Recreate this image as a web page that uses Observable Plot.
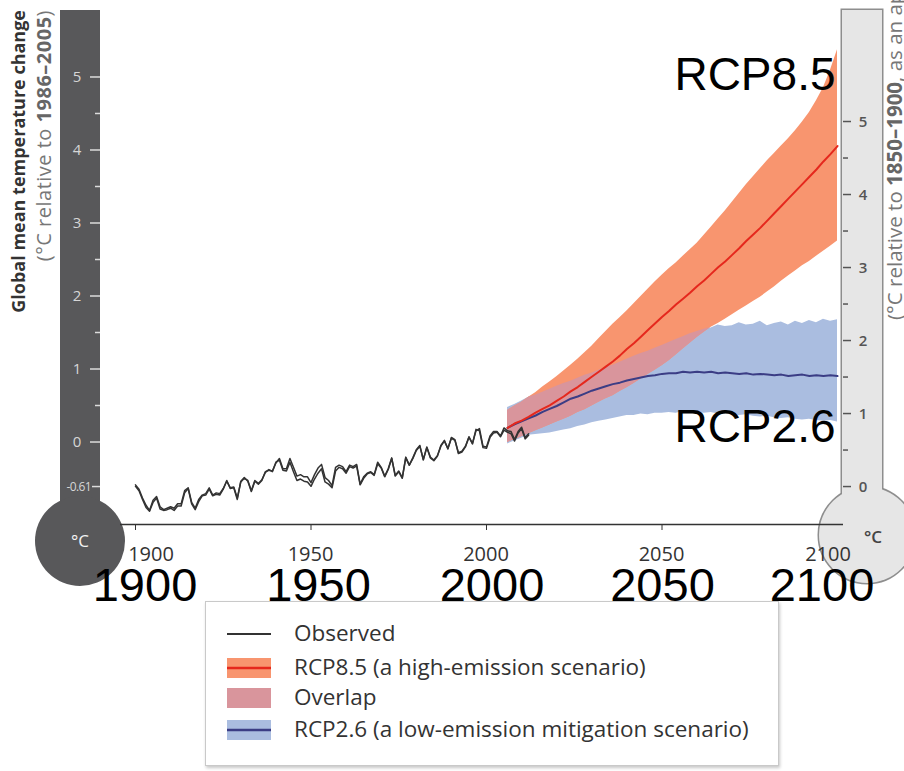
<!DOCTYPE html>
<html><head><meta charset="utf-8">
<script src="https://cdn.jsdelivr.net/npm/d3@7"></script>
<script src="https://cdn.jsdelivr.net/npm/@observablehq/plot@0.6"></script>
<style>
body{margin:0;background:#fff;}
#wrap{position:relative;width:904px;height:771px;overflow:hidden;background:#fff;}
#legend{position:absolute;left:205px;top:601px;width:572px;height:163px;border:1px solid #c9c9c9;box-shadow:1px 2px 3px rgba(0,0,0,0.22);background:#fff;font-family:"Open Sans",sans-serif;}
#legend .row{position:absolute;left:0;height:22px;}
#legend .row svg{position:absolute;left:21px;top:0;}
#legend .row span{position:absolute;left:88px;top:-5px;white-space:nowrap;font-size:22.5px;color:#333;line-height:30px;}
</style></head>
<body><div id="wrap"></div>
<script>
// ---------- data ----------
const observedStart = 1900;
const observedA = [
 -0.60,-0.66,-0.78,-0.89,-0.94,-0.82,-0.76,-0.91,-0.93,-0.92,
 -0.90,-0.93,-0.87,-0.87,-0.69,-0.63,-0.84,-0.92,-0.81,-0.73,
 -0.72,-0.64,-0.73,-0.71,-0.72,-0.64,-0.52,-0.63,-0.62,-0.78,
 -0.53,-0.48,-0.53,-0.67,-0.53,-0.57,-0.52,-0.40,-0.38,-0.39,
 -0.28,-0.22,-0.36,-0.36,-0.22,-0.34,-0.46,-0.44,-0.47,-0.47,
 -0.55,-0.44,-0.35,-0.30,-0.48,-0.52,-0.59,-0.34,-0.31,-0.33,
 -0.40,-0.31,-0.33,-0.30,-0.57,-0.47,-0.42,-0.40,-0.44,-0.27,
 -0.34,-0.46,-0.36,-0.21,-0.45,-0.39,-0.48,-0.20,-0.31,-0.21,
 -0.10,-0.04,-0.24,-0.06,-0.21,-0.25,-0.19,-0.04,0.03,-0.09,
 0.07,0.04,-0.15,-0.13,-0.06,0.08,-0.02,0.18,0.16,-0.07,
 -0.08,0.07,0.13,0.14,0.08,0.17,0.14,0.12,0.02,0.13,
 0.19,0.05,0.10];
const observedB = [
 -0.58,-0.64,-0.76,-0.86,-0.93,-0.79,-0.74,-0.88,-0.92,-0.90,
 -0.88,-0.90,-0.84,-0.84,-0.66,-0.62,-0.82,-0.90,-0.78,-0.72,
 -0.70,-0.62,-0.72,-0.69,-0.70,-0.63,-0.53,-0.62,-0.61,-0.76,
 -0.54,-0.49,-0.52,-0.66,-0.52,-0.56,-0.51,-0.41,-0.37,-0.40,
 -0.27,-0.24,-0.38,-0.39,-0.27,-0.40,-0.52,-0.50,-0.53,-0.54,
 -0.60,-0.50,-0.42,-0.36,-0.54,-0.57,-0.62,-0.39,-0.34,-0.36,
 -0.42,-0.33,-0.35,-0.32,-0.58,-0.49,-0.43,-0.41,-0.45,-0.29,
 -0.35,-0.47,-0.37,-0.22,-0.46,-0.40,-0.49,-0.21,-0.31,-0.22,
 -0.11,-0.05,-0.23,-0.07,-0.20,-0.24,-0.18,-0.05,0.02,-0.08,
 0.06,0.03,-0.14,-0.12,-0.05,0.07,-0.01,0.16,0.19,-0.05,
 -0.06,0.09,0.15,0.15,0.09,0.20,0.16,0.15,0.04,0.15,
 0.21,0.07,0.12];

const projYears = [2006,2008,2010,2012,2014,2016,2018,2020,2022,2024,2026,2028,2030,2032,2034,2036,
 2038,2040,2042,2044,2046,2048,2050,2052,2054,2056,2058,2060,2062,2064,2066,2068,2070,2072,2074,2076,
 2078,2080,2082,2084,2086,2088,2090,2092,2094,2096,2098,2100];
const rcp85Mean = [0.20,0.26,0.30,0.35,0.41,0.46,0.51,0.57,0.63,0.70,0.76,0.83,0.90,0.97,1.04,1.11,
 1.19,1.28,1.36,1.45,1.54,1.63,1.72,1.80,1.89,1.97,2.05,2.14,2.22,2.31,2.40,2.48,2.57,2.66,2.76,2.85,
 2.94,3.04,3.14,3.24,3.34,3.44,3.54,3.64,3.74,3.85,3.95,4.06];
const rcp85Low = [0.00,0.04,0.08,0.12,0.16,0.20,0.24,0.28,0.32,0.36,0.41,0.45,0.50,0.55,0.60,0.64,
 0.70,0.75,0.81,0.87,0.93,0.99,1.05,1.12,1.20,1.28,1.36,1.44,1.51,1.58,1.63,1.69,1.75,1.81,1.87,1.93,
 1.99,2.06,2.13,2.21,2.28,2.35,2.42,2.48,2.55,2.62,2.69,2.76];
const rcp85High = [0.44,0.50,0.55,0.62,0.68,0.76,0.83,0.90,0.98,1.06,1.14,1.23,1.32,1.42,1.52,1.62,
 1.71,1.80,1.90,2.00,2.10,2.20,2.29,2.38,2.46,2.55,2.64,2.73,2.84,2.95,3.06,3.17,3.29,3.41,3.53,3.64,
 3.75,3.86,3.96,4.06,4.16,4.27,4.39,4.52,4.68,4.86,5.10,5.38];
const rcp26Mean = [0.20,0.25,0.29,0.33,0.37,0.42,0.46,0.50,0.55,0.60,0.63,0.67,0.71,0.74,0.77,0.80,
 0.82,0.85,0.87,0.89,0.91,0.92,0.94,0.95,0.95,0.97,0.96,0.97,0.96,0.97,0.95,0.96,0.95,0.94,0.95,0.93,
 0.94,0.93,0.92,0.93,0.91,0.92,0.93,0.91,0.92,0.91,0.92,0.91];
const rcp26Low = [-0.02,0.02,0.06,0.10,0.11,0.12,0.13,0.15,0.17,0.19,0.22,0.24,0.27,0.29,0.31,0.33,
 0.35,0.37,0.37,0.39,0.38,0.40,0.40,0.41,0.40,0.42,0.43,0.41,0.40,0.41,0.39,0.40,0.38,0.37,0.38,0.36,
 0.35,0.36,0.34,0.33,0.34,0.32,0.31,0.32,0.30,0.29,0.30,0.28];
const rcp26High = [0.48,0.52,0.57,0.62,0.65,0.69,0.73,0.77,0.81,0.84,0.88,0.92,0.95,0.99,1.03,1.06,
 1.10,1.14,1.18,1.22,1.25,1.29,1.33,1.37,1.41,1.45,1.49,1.52,1.55,1.57,1.61,1.59,1.60,1.64,1.61,1.62,
 1.66,1.60,1.63,1.65,1.61,1.66,1.63,1.67,1.64,1.69,1.66,1.68];

const xTicks = [1900,1950,2000,2050,2100];
const smallYearLabels = ["1900","1950","2000","2050","2100"];
const bigYearLabels = ["1900","1950","2000","2050","2100"];
const leftMajorTicks = [0,1,2,3,4,5];
const leftMinorTicks = [0.5,1.5,2.5,3.5,4.5];
const leftBaseTick = -0.61;
const rightMajorTicks = [0,1,2,3,4,5];
const rightMinorTicks = [0.5,1.5,2.5,3.5,4.5];
const rightOffset = 0.61; // 1850–1900 baseline vs 1986–2005
const yDomain = [-1.123, 5.849];
const scenarioLabels = ["RCP8.5","RCP2.6"];
const scenarioLabelValues = [5.03, 0.21];
const legendLabels = ["Observed","RCP8.5 (a high-emission scenario)","Overlap","RCP2.6 (a low-emission mitigation scenario)"];

// label nudges (px) to keep year labels clear of the thermometer bulbs
const smallNudge = [16, 0, 0, 0, -9];
const bigNudge = [10, 8, 6, 1, -15];

// ---------- colours ----------
const C = {
  obs:"#333333", red:"#e5281d", orange:"#f8956f", pink:"#d9959c", blue:"#aabde0", navy:"#3b3d85",
  leftTherm:"#58585a", rightTherm:"#e6e6e6", rightStroke:"#8e8e8e"
};

// ---------- tables ----------
const obs = [];
observedA.forEach((v,i)=>obs.push({year:observedStart+i, value:v, series:"A"}));
observedB.forEach((v,i)=>obs.push({year:observedStart+i, value:v, series:"B"}));
const proj = projYears.map((yr,i)=>({year:yr, m85:rcp85Mean[i], lo85:rcp85Low[i], hi85:rcp85High[i],
  m26:rcp26Mean[i], lo26:rcp26Low[i], hi26:rcp26High[i]}));
const overlap = proj.map(d=>{const lo=Math.max(d.lo85,d.lo26); const hi=Math.max(lo,Math.min(d.hi85,d.hi26)); return {year:d.year, lo, hi};});
const scen = scenarioLabels.map((s,i)=>({label:s, x:xTicks[xTicks.length-1], y:scenarioLabelValues[i]}));

// ---------- thermometer decoration (uses the y scale) ----------
function thermometers(index, scales) {
  const y = scales.y;
  const g = d3.create("svg:g").attr("font-family","'Open Sans', sans-serif");
  // left (1986–2005 baseline)
  const L = g.append("g");
  L.append("rect").attr("x",60).attr("y",10).attr("width",40).attr("height",530).attr("fill",C.leftTherm);
  L.append("circle").attr("cx",80).attr("cy",541).attr("r",45).attr("fill",C.leftTherm);
  for (const v of leftMajorTicks) {
    L.append("line").attr("x1",90).attr("x2",100).attr("y1",y(v)).attr("y2",y(v)).attr("stroke","#dcdcdc").attr("stroke-width",1.5);
    L.append("text").attr("x",77).attr("y",y(v)).attr("dy","0.36em").attr("text-anchor","middle").attr("fill","#d6d6d6").attr("font-size",15).text(v);
  }
  for (const v of leftMinorTicks) {
    L.append("line").attr("x1",95).attr("x2",100).attr("y1",y(v)).attr("y2",y(v)).attr("stroke","#dcdcdc").attr("stroke-width",1.5);
  }
  L.append("line").attr("x1",92).attr("x2",100).attr("y1",y(leftBaseTick)).attr("y2",y(leftBaseTick)).attr("stroke","#dcdcdc").attr("stroke-width",1.5);
  L.append("text").attr("x",91).attr("y",y(leftBaseTick)).attr("dy","0.36em").attr("text-anchor","end").attr("fill","#d6d6d6").attr("font-size",12).attr("letter-spacing","-0.6").text(String(leftBaseTick));
  L.append("text").attr("x",80).attr("y",541).attr("dy","0.36em").attr("text-anchor","middle").attr("fill","#f2f2f2").attr("font-size",17).text("°C");
  // right (1850–1900 baseline)
  const R = g.append("g");
  R.append("circle").attr("cx",867).attr("cy",535).attr("r",48).attr("fill",C.rightTherm).attr("stroke",C.rightStroke).attr("stroke-width",3);
  R.append("rect").attr("x",842).attr("y",10).attr("width",40).attr("height",510).attr("fill",C.rightTherm).attr("stroke",C.rightStroke).attr("stroke-width",3);
  R.append("circle").attr("cx",867).attr("cy",535).attr("r",48).attr("fill",C.rightTherm);
  R.append("rect").attr("x",842).attr("y",10).attr("width",40).attr("height",510).attr("fill",C.rightTherm);
  for (const v of rightMajorTicks) {
    const yy = y(v - rightOffset);
    R.append("line").attr("x1",843).attr("x2",851).attr("y1",yy).attr("y2",yy).attr("stroke","#555").attr("stroke-width",1.5);
    R.append("text").attr("x",863).attr("y",yy).attr("dy","0.36em").attr("text-anchor","middle").attr("fill","#555").attr("font-size",15).attr("font-weight","600").text(v);
  }
  for (const v of rightMinorTicks) {
    const yy = y(v - rightOffset);
    R.append("line").attr("x1",843).attr("x2",848).attr("y1",yy).attr("y2",yy).attr("stroke","#555").attr("stroke-width",1.5);
  }
  R.append("text").attr("x",873).attr("y",537).attr("dy","0.36em").attr("text-anchor","middle").attr("fill","#444").attr("font-size",17).attr("font-weight","600").text("°C");
  // titles
  g.append("text").attr("transform","translate(19,10) rotate(-90)").attr("dy","0.36em").attr("text-anchor","end")
    .attr("font-size",18).attr("font-weight","bold").attr("fill","#333").text("Global mean temperature change");
  const t2 = g.append("text").attr("transform","translate(44,10) rotate(-90)").attr("dy","0.36em").attr("text-anchor","end")
    .attr("font-size",20).attr("letter-spacing","0.5").attr("fill","#777");
  t2.append("tspan").text("(°C relative to ");
  t2.append("tspan").attr("font-weight","bold").attr("fill","#666").text("1986–2005");
  t2.append("tspan").text(")");
  const t3 = g.append("text").attr("transform","translate(895,320) rotate(-90)").attr("dy","0.36em").attr("text-anchor","start")
    .attr("font-size",20.5).attr("fill","#777");
  t3.append("tspan").text("(°C relative to ");
  t3.append("tspan").attr("font-weight","bold").attr("fill","#666").text("1850–1900");
  t3.append("tspan").text(", as an approximation of preindustrial levels)");
  return g.node();
}

// ---------- year labels (small axis labels + large overlay labels), placed with the x scale ----------
function yearLabels(index, scales) {
  const x = scales.x;
  const g = d3.create("svg:g");
  xTicks.forEach((v,i)=>{
    g.append("text").attr("x", x(v)+smallNudge[i]).attr("y", 561).attr("text-anchor","middle")
      .attr("font-family","'Open Sans', sans-serif").attr("font-size",20).attr("fill","#333").text(smallYearLabels[i]);
    g.append("text").attr("x", x(v)+bigNudge[i]).attr("y", 601).attr("text-anchor","middle")
      .attr("font-family","'Liberation Sans', Arial, sans-serif").attr("font-size",47).attr("fill","#000").text(bigYearLabels[i]);
  });
  return g.node();
}

const chart = Plot.plot({
  width: 904, height: 600,
  marginLeft: 135, marginRight: 67, marginTop: 15, marginBottom: 76,
  style: {overflow:"visible", fontFamily:"'Open Sans', sans-serif", color:"#333", background:"transparent"},
  x: {domain:[1900,2100], ticks:xTicks, tickSize:6, tickFormat:()=>"", label:null},
  y: {domain:yDomain, axis:null},
  marks: [
    thermometers,
    Plot.areaY(proj, {x:"year", y1:"lo26", y2:"hi26", fill:C.blue}),
    Plot.areaY(proj, {x:"year", y1:"lo85", y2:"hi85", fill:C.orange}),
    Plot.areaY(overlap, {x:"year", y1:"lo", y2:"hi", fill:C.pink}),
    Plot.lineY(proj, {x:"year", y:"m26", stroke:C.navy, strokeWidth:2}),
    Plot.lineY(proj, {x:"year", y:"m85", stroke:C.red, strokeWidth:2}),
    Plot.line(obs, {x:"year", y:"value", z:"series", stroke:C.obs, strokeWidth:1.5}),
    Plot.ruleY([yDomain[0]], {stroke:"#333", strokeWidth:1.5, insetLeft:-15, insetRight:-6}),
    yearLabels,
    Plot.text(scen, {x:"x", y:"y", text:"label", textAnchor:"end", dx:-2, fontSize:46,
      fontFamily:"'Liberation Sans', Arial, sans-serif", fill:"#000"})
  ]
});
document.getElementById("wrap").appendChild(chart);

// ---------- legend ----------
const legend = d3.select("#wrap").append("div").attr("id","legend");
const rowTops = [21,55,85,117];
legendLabels.forEach((lab,i)=>{
  const row = legend.append("div").attr("class","row").style("top", rowTops[i]+"px");
  const s = row.append("svg").attr("width",46).attr("height",22);
  if (i===0) s.append("line").attr("x1",0).attr("x2",44).attr("y1",11).attr("y2",11).attr("stroke",C.obs).attr("stroke-width",2);
  if (i===1) { s.append("rect").attr("x",0).attr("y",1).attr("width",44).attr("height",20).attr("fill",C.orange);
               s.append("line").attr("x1",0).attr("x2",44).attr("y1",11).attr("y2",11).attr("stroke",C.red).attr("stroke-width",2.5); }
  if (i===2) s.append("rect").attr("x",0).attr("y",1).attr("width",44).attr("height",20).attr("fill",C.pink);
  if (i===3) { s.append("rect").attr("x",0).attr("y",1).attr("width",44).attr("height",20).attr("fill",C.blue);
               s.append("line").attr("x1",0).attr("x2",44).attr("y1",11).attr("y2",11).attr("stroke",C.navy).attr("stroke-width",2.5); }
  row.append("span").text(lab);
});
</script>
</body></html>
